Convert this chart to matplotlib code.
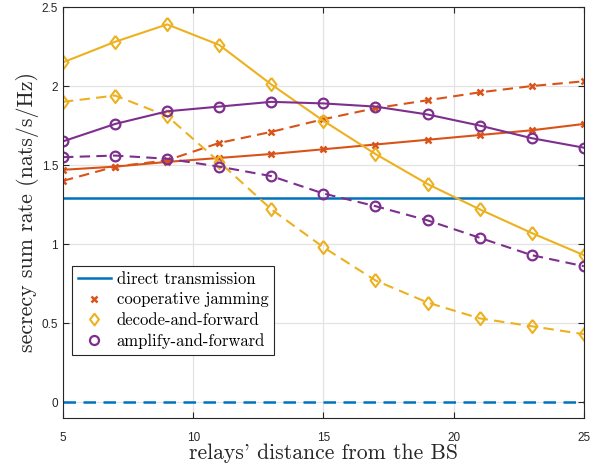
import matplotlib
matplotlib.use('Agg')
import matplotlib.pyplot as plt
from matplotlib.lines import Line2D

# ── Data ──────────────────────────────────────────────────────────────────────
dist = [5, 7, 9, 11, 13, 15, 17, 19, 21, 23, 25]

direct_solid  = 1.29
direct_dashed = 0.0

cj_solid  = [1.47, 1.49, 1.52, 1.545, 1.57, 1.60, 1.63, 1.66, 1.69, 1.72, 1.76]
cj_dashed = [1.40, 1.49, 1.53, 1.64, 1.71, 1.79, 1.86, 1.91, 1.96, 2.00, 2.03]

df_solid  = [2.15, 2.28, 2.39, 2.26, 2.01, 1.78, 1.57, 1.38, 1.22, 1.07, 0.93]
df_dashed = [1.90, 1.94, 1.81, 1.52, 1.22, 0.98, 0.77, 0.63, 0.53, 0.48, 0.43]

af_solid  = [1.65, 1.76, 1.84, 1.87, 1.90, 1.89, 1.87, 1.82, 1.75, 1.67, 1.61]
af_dashed = [1.55, 1.56, 1.54, 1.49, 1.43, 1.32, 1.24, 1.15, 1.04, 0.93, 0.86]

labels = ['direct transmission', 'cooperative jamming',
          'decode-and-forward', 'amplify-and-forward']

# MATLAB default colours
C_BLUE, C_ORANGE, C_YELLOW, C_PURPLE = '#0072BD', '#D95319', '#EDB120', '#7E2F8E'

LW = 1.5
DASH = (0, (5, 3))
SERIF = 'cmr10'
# MATLAB-like diamond (a bit wider than matplotlib's thin 'd')
DIAMOND = [(0, 1), (0.75, 0), (0, -1), (-0.75, 0), (0, 1)]

fig = plt.figure(figsize=(6, 4.68), dpi=100)
ax = fig.add_axes([0.105, 0.107, 0.868, 0.878])

# direct transmission
ax.axhline(direct_solid, color=C_BLUE, lw=LW + 0.3)
ax.axhline(direct_dashed, color=C_BLUE, lw=LW + 0.3, ls=DASH)

# cooperative jamming
mk_cj = dict(marker='x', ms=4.5, mew=1.8, color=C_ORANGE, lw=LW)
ax.plot(dist, cj_solid, **mk_cj)
ax.plot(dist, cj_dashed, ls=DASH, **mk_cj)

# decode-and-forward
mk_df = dict(marker=DIAMOND, ms=9.5, mew=1.5, mfc='none', color=C_YELLOW, lw=LW)
ax.plot(dist, df_solid, **mk_df)
ax.plot(dist, df_dashed, ls=DASH, **mk_df)

# amplify-and-forward
mk_af = dict(marker='o', ms=7, mew=1.6, mfc='none', color=C_PURPLE, lw=LW)
ax.plot(dist, af_solid, **mk_af)
ax.plot(dist, af_dashed, ls=DASH, **mk_af)

# ── Axes styling (MATLAB look) ────────────────────────────────────────────────
ax.set_xlim(5, 25)
ax.set_ylim(-0.1, 2.5)
ax.set_xticks([5, 10, 15, 20, 25])
ax.set_yticks([0, 0.5, 1, 1.5, 2, 2.5])
ax.set_yticklabels(['0', '0.5', '1', '1.5', '2', '2.5'])
ax.grid(True, color='#e3e3e3', lw=0.9)
ax.set_axisbelow(True)
ax.tick_params(direction='in', top=True, right=True, length=4,
               labelsize=8.5, colors='#262626', width=0.8)
for lab in ax.get_xticklabels() + ax.get_yticklabels():
    lab.set_family('Liberation Sans')
ax.tick_params(axis='x', pad=10)
for s in ax.spines.values():
    s.set_color('#262626')
    s.set_linewidth(0.8)

ax.set_xlabel("relays' distance from the BS", family=SERIF, fontsize=15.6,
              color='#262626', labelpad=0)
ax.set_ylabel('secrecy sum rate (nats/s/Hz)', family=SERIF, fontsize=15.8,
              color='#262626', labelpad=2)

handles = [
    Line2D([], [], color=C_BLUE, lw=LW + 0.3),
    Line2D([], [], color=C_ORANGE, ls='none', marker='x', ms=4.5, mew=1.8),
    Line2D([], [], color=C_YELLOW, ls='none', marker=DIAMOND, ms=8.5, mew=1.5, mfc='none'),
    Line2D([], [], color=C_PURPLE, ls='none', marker='o', ms=6.5, mew=1.6, mfc='none'),
]
leg = ax.legend(handles, labels, loc='lower left', bbox_to_anchor=(0.017, 0.153),
                borderaxespad=0, prop={'family': SERIF, 'size': 12},
                fancybox=False, edgecolor='#262626', framealpha=1,
                handlelength=2.0, handletextpad=0.35, labelspacing=0.32,
                borderpad=0.35)
leg.get_frame().set_linewidth(0.8)

fig.savefig('out.png', dpi=100)
